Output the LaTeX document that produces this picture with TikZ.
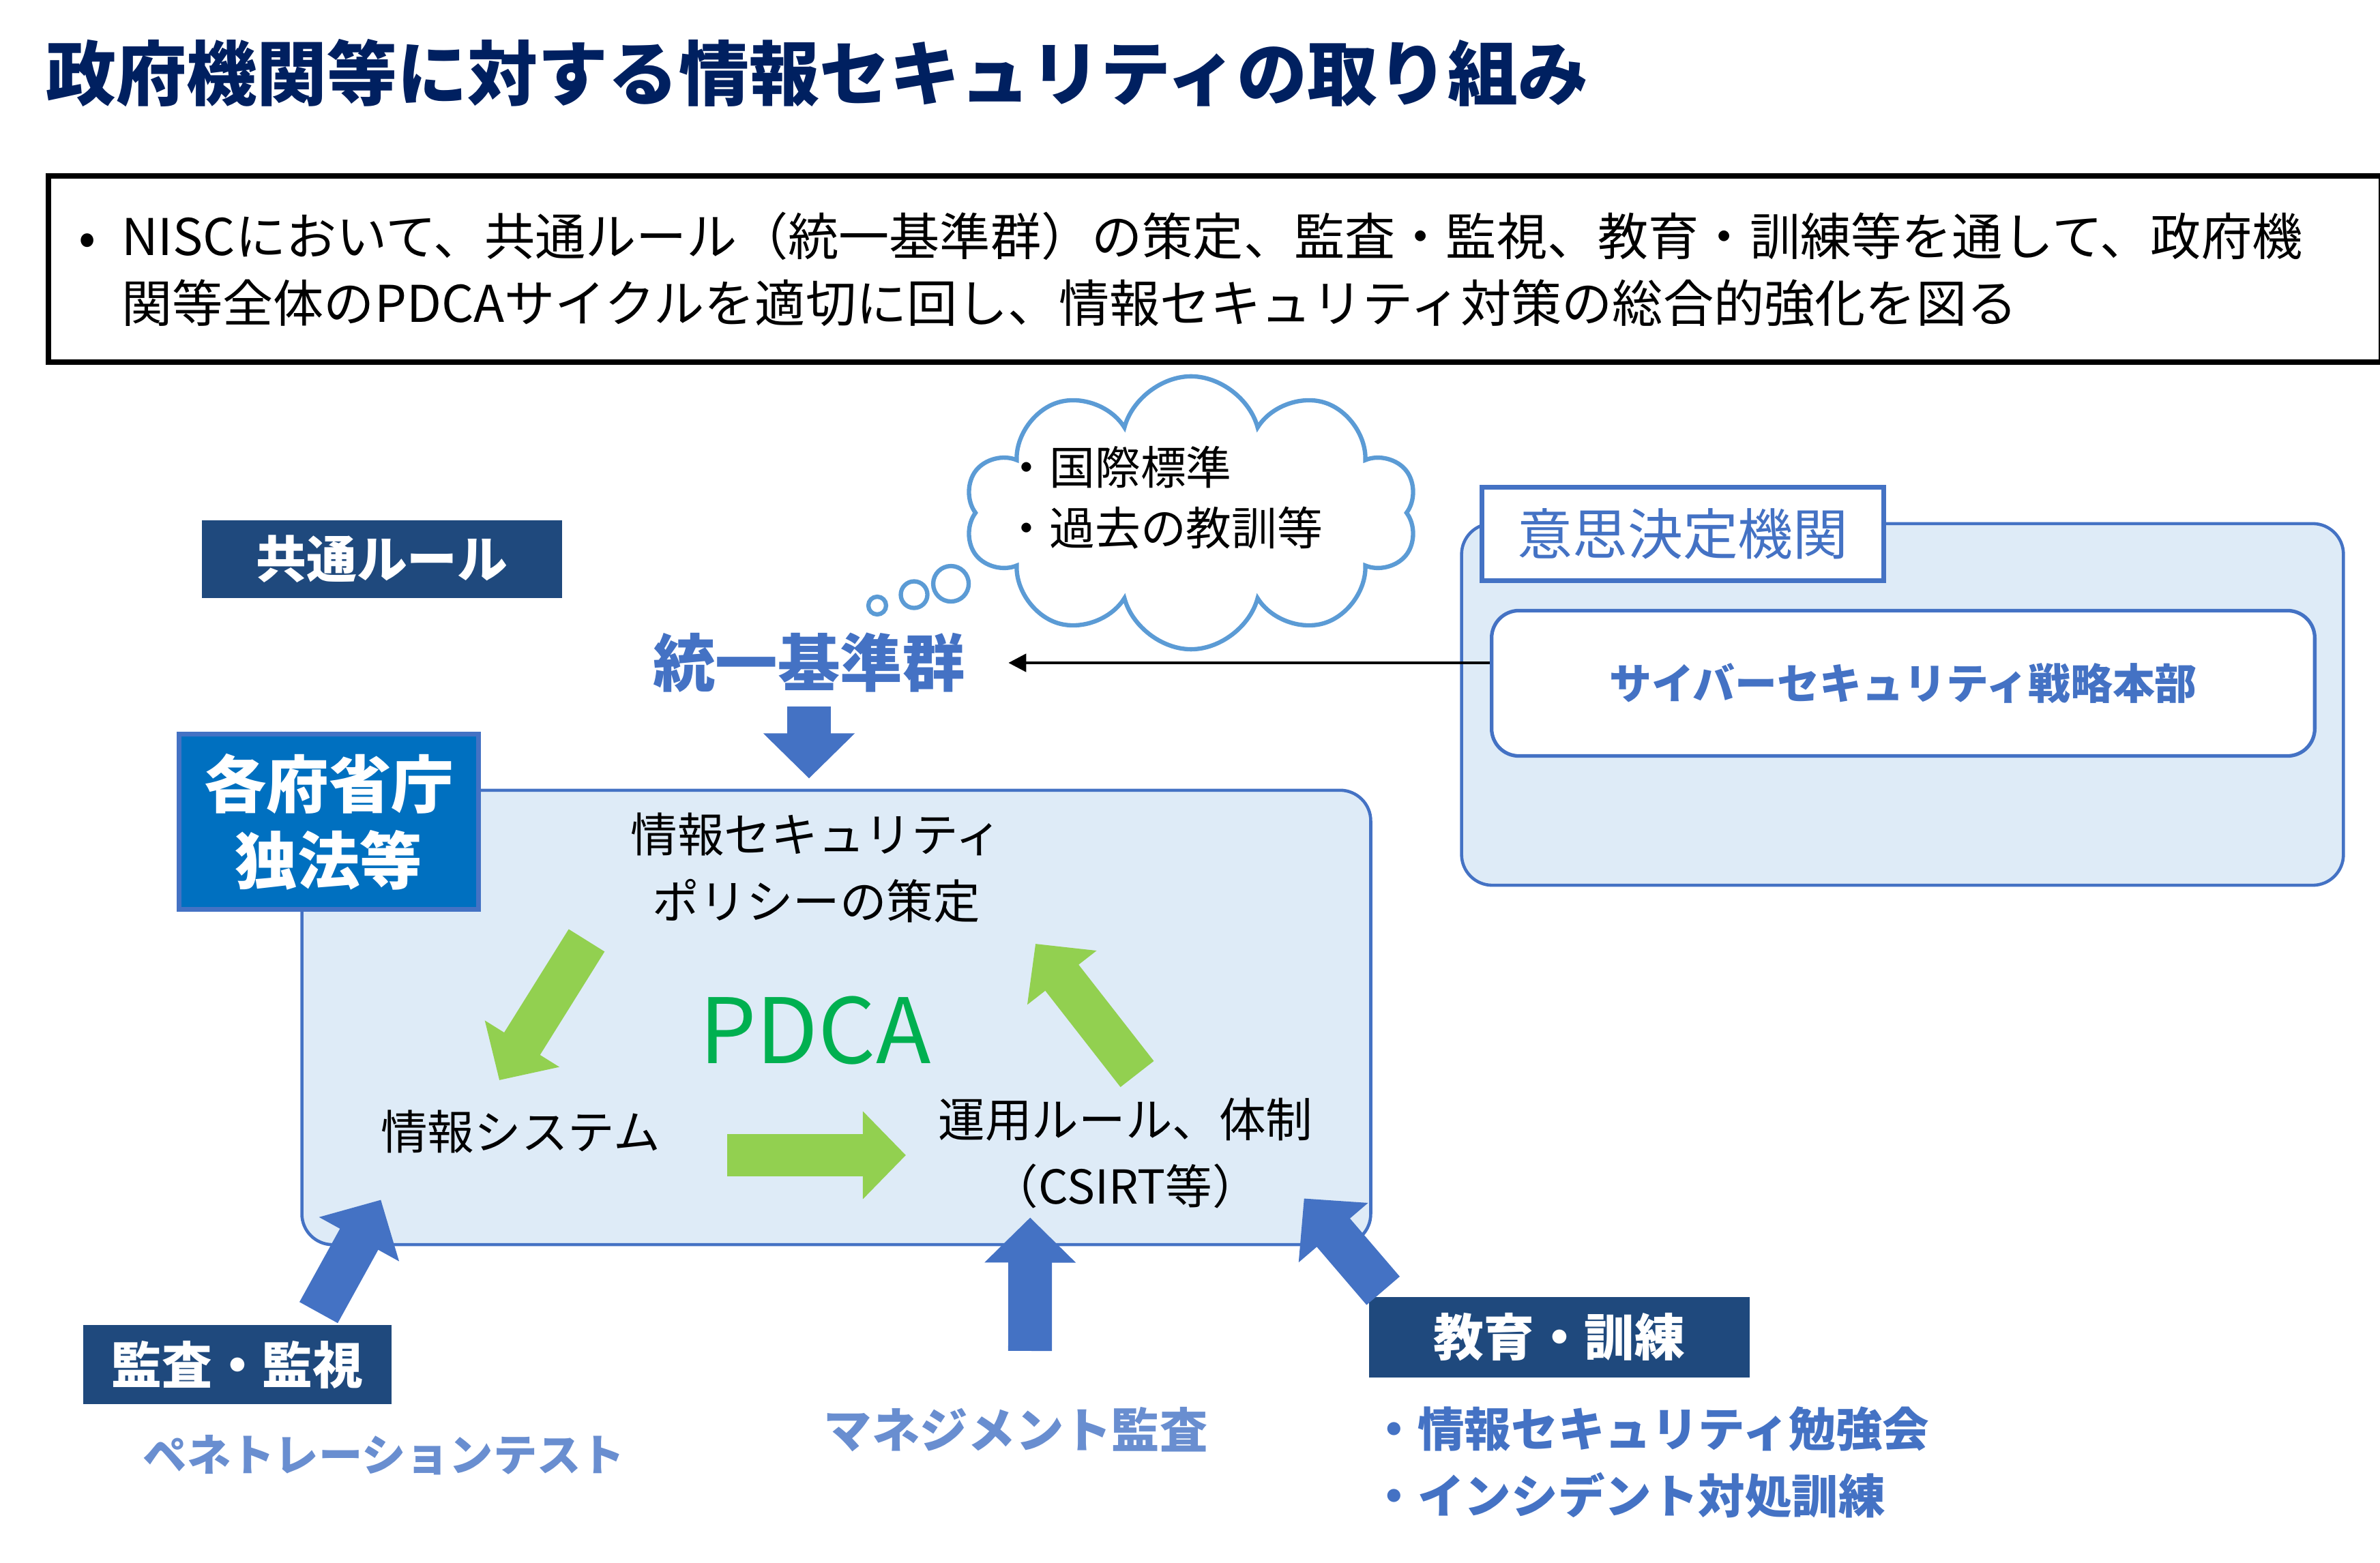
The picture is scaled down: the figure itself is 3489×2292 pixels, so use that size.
\documentclass[tikz,border=0pt]{standalone}
\usepackage{fontspec}
\setmainfont{Noto Sans CJK JP}
\usetikzlibrary{shapes.callouts,shapes.symbols,arrows.meta}

\definecolor{titlenavy}{HTML}{002060}
\definecolor{boxnavy}{HTML}{1F497D}
\definecolor{acc}{HTML}{4472C4}
\definecolor{govblue}{HTML}{0070C0}
\definecolor{paleblue}{HTML}{DEEBF7}
\definecolor{cloudline}{HTML}{5B9BD5}
\definecolor{leafgreen}{HTML}{92D050}
\definecolor{pdcagreen}{HTML}{00B050}

\newcommand{\fsz}[2]{\fontsize{#1}{#2}\selectfont}

\begin{document}
\begin{tikzpicture}[x=0.01cm,y=-0.01cm]

			\useasboundingbox (0,0) rectangle (3489,2292);

			\tikzstyle{navybox}=[fill=boxnavy,text=white,
				font=\fsz{21}{26}\bfseries,inner sep=0pt]
			\tikzstyle{panel}=[fill=paleblue,draw=acc,line width=1.3pt,
				rounded corners=0.45cm,inner sep=0pt]
			\tikzstyle{plain}=[font=\fsz{19.5}{27.9},align=center,inner sep=0pt]
			\tikzstyle{bluetext}=[text=acc,font=\fsz{19.5}{27.9}\bfseries,
				inner sep=0pt]
			\tikzstyle{fatblue}=[acc,line width=0.64cm,
				-{Triangle[length=0.66cm,width=1.3cm]}]
			\tikzstyle{fatgreen}=[leafgreen,line width=0.62cm,
				-{Triangle[length=0.63cm,width=1.25cm]}]

			\node[anchor=west,inner sep=0pt,text=titlenavy,
				font=\fsz{29.3}{34}\bfseries]	(title)	at (67,107)
				{政府機関等に対する情報セキュリティの取り組み};

			\node[draw=black,line width=2.3pt,anchor=north west,
				minimum height=2.73cm,text width=33.7cm,
				inner xsep=0.24cm,inner ysep=0pt,align=left,
				font=\fsz{21.1}{27.9}]	(intro)	at (67,254)
				{\raisebox{-0.09cm}[\height][\depth]{\begin{tabular}{@{\hspace{0.2cm}}p{0.63cm}@{}l@{}}
				•&NISCにおいて、共通ルール（統一基準群）の策定、監査・監視、教育・訓練等を通して、政府機\\
				&関等全体のPDCAサイクルを適切に回し、情報セキュリティ対策の総合的強化を図る
				\end{tabular}}};

			\node[navybox,minimum width=5.27cm,minimum height=1.14cm]	(rule)	at (560,820)	{共通ルール};

			\node[cloud callout,cloud puffs=10,cloud ignores aspect,
				draw=cloudline,line width=1.8pt,fill=white,
				minimum width=6.63cm,minimum height=4.0cm,
				callout absolute pointer={(1286,888)},
				callout pointer segments=3,
				callout pointer start size=0.65cm,
				callout pointer end size=0.26cm]	(idea)	at (1746,752)	{};
			\node[font=\fsz{19}{25.3},align=left,anchor=west,inner sep=0pt]	(ideatext)	at (1471,730)
				{・国際標準\\・過去の教訓等};

			\node[text=acc,font=\fsz{26}{30}\bfseries,inner sep=0pt]	(std)	at (1186,972)	{統一基準群};

			\node[panel,minimum width=15.66cm,minimum height=6.66cm]	(main)	at (1226,1492)	{};
			\node[fill=govblue,draw=acc,line width=2pt,text=white,
				minimum width=4.38cm,minimum height=2.56cm,
				font=\fsz{26}{31.9}\bfseries,align=center,inner sep=0pt]	(gov)	at (482,1205)
				{各府省庁\\独法等};

			\node[plain]	(policy)	at (1197,1273)	{情報セキュリティ\\ポリシーの策定};
			\node[text=pdcagreen,font=\fsz{37.6}{40},inner sep=0pt]	(pdca)	at (1195,1511)	{PDCA};
			\node[plain]	(system)	at (763,1660)	{情報システム};
			\node[plain]	(ops)	at (1650,1691)	{運用ルール、体制\\（CSIRT等）};

			\coordinate	(g1s)	at (860,1379);
			\coordinate	(g1e)	at (732,1584);
			\coordinate	(g2s)	at (1066,1694);
			\coordinate	(g2e)	at (1328,1694);
			\coordinate	(g3s)	at (1667,1575);
			\coordinate	(g3e)	at (1518,1384);
			\draw[fatgreen]	(g1s) -- (g1e);
			\draw[fatgreen]	(g2s) -- (g2e);
			\draw[fatgreen]	(g3s) -- (g3e);

			\node[panel,minimum width=12.92cm,minimum height=5.3cm]	(council)	at (2789,1033)	{};
			\node[fill=white,draw=acc,line width=2pt,text=acc,
				minimum width=5.88cm,minimum height=1.36cm,
				font=\fsz{23}{28},inner sep=0pt]	(councillabel)	at (2467,783)	{意思決定機関};
			\node[fill=white,draw=acc,line width=1.5pt,rounded corners=0.4cm,
				minimum width=12.06cm,minimum height=2.13cm,text=acc,
				font=\fsz{17.6}{22}\bfseries,inner sep=0pt]	(cyber)	at (2790,1002)
				{サイバーセキュリティ戦略本部};

			\draw[line width=1.3pt,-{Triangle[length=0.26cm,width=0.26cm]}]
				(cyber.west |- std) -- ([xshift=0.63cm]std.east);
			\draw[fatblue]	([yshift=-0.2cm]std.south) -- ([yshift=0.15cm]main.north -| std);

			\node[navybox,minimum width=4.52cm,minimum height=1.15cm]	(audit)	at (348,2001)	{監査・監視};
			\node[navybox,minimum width=5.57cm,minimum height=1.17cm]	(edu)	at (2286,1961)	{教育・訓練};

			\node[text=acc!80,font=\fsz{18.3}{22}\bfseries,inner sep=0pt]	(pentest)	at (563,2134)	{ペネトレーションテスト};
			\node[text=acc!80,font=\fsz{20}{24}\bfseries,inner sep=0pt]	(mgmt)	at (1489,2096)	{マネジメント監査};
			\node[bluetext,anchor=west,align=left]	(training)	at (2009,2145)
				{・情報セキュリティ勉強会\\・インシデント対処訓練};

			\coordinate	(m0)	at (1510,1981);
			\draw[fatblue]	([xshift=1.19cm,yshift=0.18cm]audit.north)
				-- ([shift={(1.18cm,0.68cm)}]main.south west);
			\draw[fatblue]	(m0) -- ([shift={(2.84cm,0.42cm)}]main.south);
			\draw[fatblue]	([xshift=0.21cm,yshift=0.09cm]edu.north west)
				-- ([shift={(-1.0cm,0.7cm)}]main.south east);

\end{tikzpicture}
\end{document}
